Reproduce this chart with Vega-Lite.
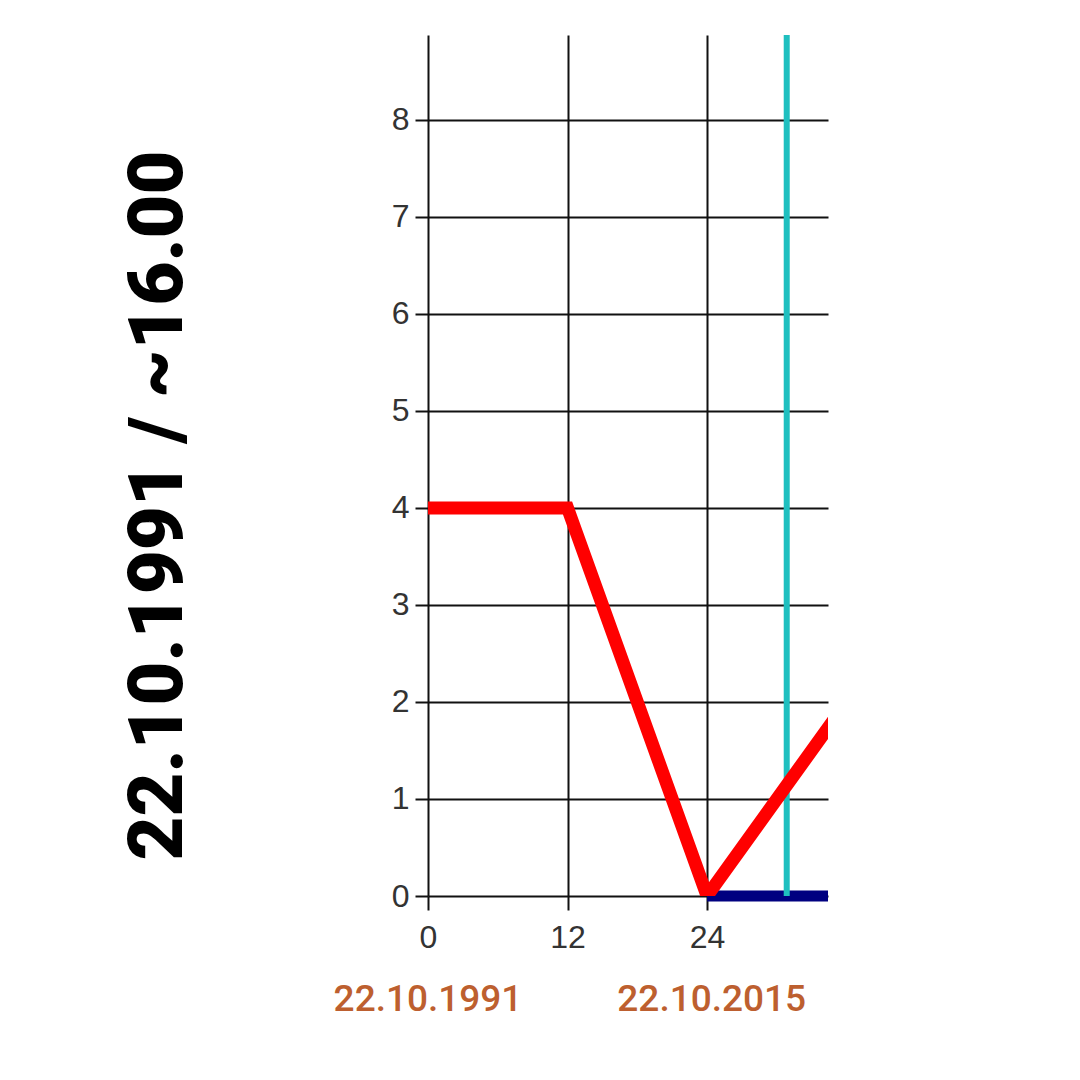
{
  "$schema": "https://vega.github.io/schema/vega-lite/v6.json",
  "autosize": "none",
  "width": 400,
  "height": 861,
  "padding": {"left": 428, "top": 35, "right": 252, "bottom": 184},
  "background": "white",
  "config": {"view": {"stroke": null}},
  "datasets": {
    "red": [{"t": 0, "v": 4}, {"t": 12, "v": 4}, {"t": 24, "v": 0}, {"t": 36, "v": 2}],
    "navy": [{"t": 24, "v": 0}, {"t": 34.4, "v": 0}],
    "cyan": [{"t": 30.85}],
    "dates": [{"t": 0, "label": "22.10.1991"}, {"t": 24.4, "label": "22.10.2015"}]
  },
  "layer": [
    {
      "data": {"name": "navy"},
      "mark": {"type": "line", "color": "#000080", "strokeWidth": 11, "clip": false, "strokeCap": "butt"},
      "encoding": {
        "x": {"field": "t", "type": "quantitative", "scale": {"domain": [0, 34.4], "nice": false, "zero": false},
          "axis": {"values": [0, 12, 24, 36], "format": "d", "grid": true, "gridColor": "#111", "gridWidth": 2, "gridOpacity": 1, "domain": false,
            "tickColor": "#111", "tickWidth": 2, "tickSize": 14, "labelFont": "Liberation Sans", "labelFontSize": 32, "labelColor": "#333",
            "labelPadding": 12, "labelFlush": false, "labelOverlap": false, "title": null}},
        "y": {"field": "v", "type": "quantitative", "scale": {"domain": [0, 8.876], "nice": false},
          "axis": {"values": [0, 1, 2, 3, 4, 5, 6, 7, 8], "format": "d", "grid": true, "gridColor": "#111", "gridWidth": 2, "gridOpacity": 1, "domain": false,
            "tickColor": "#111", "tickWidth": 2, "tickSize": 13, "labelFont": "Liberation Sans", "labelFontSize": 32, "labelColor": "#333",
            "labelPadding": 6, "labelFlush": false,
            "title": "22.10.1991 / ~16.00", "titleFont": "Roboto", "titleFontSize": 76, "titleFontWeight": 900, "titleColor": "#000",
            "titleAngle": -90, "titleAlign": "center", "titleBaseline": "middle", "titleX": -270, "titleY": 470}}
      }
    },
    {
      "data": {"name": "cyan"},
      "mark": {"type": "rule", "color": "#1fbfbf", "strokeWidth": 6, "clip": true},
      "encoding": {"x": {"field": "t", "type": "quantitative"}}
    },
    {
      "data": {"name": "red"},
      "mark": {"type": "line", "color": "#ff0000", "strokeWidth": 13, "clip": true, "strokeJoin": "miter"},
      "encoding": {
        "x": {"field": "t", "type": "quantitative"},
        "y": {"field": "v", "type": "quantitative"}
      }
    },
    {
      "data": {"name": "dates"},
      "mark": {"type": "text", "color": "#bd5f2f", "font": "Roboto", "fontSize": 37, "fontWeight": 500, "align": "center", "baseline": "middle", "clip": false},
      "encoding": {
        "x": {"field": "t", "type": "quantitative"},
        "y": {"datum": -1.07, "type": "quantitative"},
        "text": {"field": "label"}
      }
    }
  ]
}
